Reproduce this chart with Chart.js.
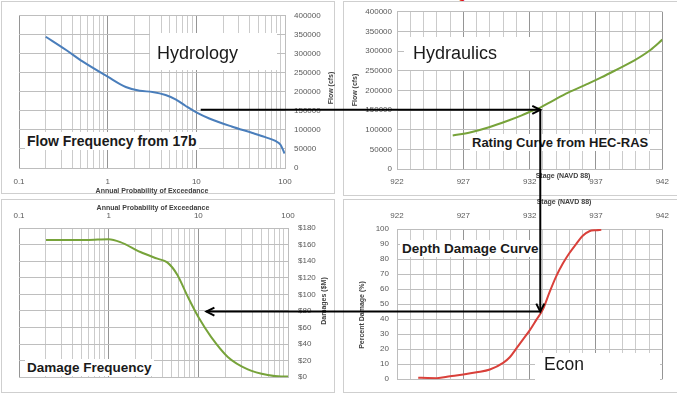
<!DOCTYPE html>
<html>
<head>
<meta charset="utf-8">
<script src="https://cdn.jsdelivr.net/npm/chart.js@4.4.1/dist/chart.umd.min.js"></script>
<style>
  body { margin: 0; width: 677px; height: 398px; background: #fff; position: relative; overflow: hidden;
         font-family: "Liberation Sans", Arial, sans-serif; }
  .panel { position: absolute; border: 1px solid #cfcfcf; box-sizing: border-box; }
  canvas.c { position: absolute; }
  .t { position: absolute; white-space: nowrap; color: #1a1a1a; }
  .box { position: absolute; background: #fff; }
  .ax { position: absolute; white-space: nowrap; font-size: 7px; font-weight: bold; color: #404040;
        transform: translate(-50%, -50%); }
  .rot { transform: translate(-50%, -50%) rotate(-90deg); }
  #arrows { position: absolute; left: 0; top: 0; z-index: 5; }
</style>
</head>
<body>
<div class="t" style="left:459px;top:-16px;color:#e01010;font-weight:bold;font-size:17px;">y</div>

<div class="panel" style="left:1px;top:1px;width:334px;height:193px;"></div>
<div class="panel" style="left:343px;top:1px;width:340px;height:195px;"></div>
<div class="panel" style="left:1px;top:199px;width:334px;height:194px;"></div>
<div class="panel" style="left:343px;top:199px;width:340px;height:194px;"></div>

<canvas class="c" id="flowChart" width="332" height="191" style="left:2px;top:2px;"></canvas>
<canvas class="c" id="ratingChart" width="333" height="193" style="left:344px;top:2px;"></canvas>
<canvas class="c" id="damageFreqChart" width="332" height="192" style="left:2px;top:200px;"></canvas>
<canvas class="c" id="depthDamageChart" width="333" height="192" style="left:344px;top:200px;"></canvas>

<!-- axis titles -->
<div class="ax" style="left:152px;top:190px;">Annual Probability of Exceedance</div>
<div class="ax rot" style="left:330px;top:88px;">Flow (cfs)</div>
<div class="ax rot" style="left:354px;top:90px;">Flow (cfs)</div>
<div class="ax" style="left:563px;top:175px;">Stage (NAVD 88)</div>
<div class="ax" style="left:153px;top:207px;">Annual Probability of Exceedance</div>
<div class="ax rot" style="left:323px;top:301px;">Damages ($M)</div>
<div class="ax" style="left:564px;top:201px;">Stage (NAVD 88)</div>
<div class="ax rot" style="left:361px;top:315px;">Percent Damage (%)</div>

<!-- annotation labels -->
<div class="box" style="left:150px;top:33px;width:127px;height:37px;"></div>
<div class="t" style="left:157px;top:43px;font-size:18px;">Hydrology</div>
<div class="box" style="left:404px;top:37px;width:126px;height:33px;"></div>
<div class="t" style="left:413px;top:43px;font-size:18px;">Hydraulics</div>
<div class="t" style="left:25px;top:132px;font-size:14px;font-weight:bold;background:#fff;padding:1px 2px;">Flow Frequency from 17b</div>
<div class="t" style="left:470px;top:134px;font-size:13px;font-weight:bold;background:#fff;padding:1px 2px;">Rating Curve from HEC-RAS</div>
<div class="t" style="left:25px;top:359px;font-size:13.5px;font-weight:bold;background:#fff;padding:1px 2px;">Damage Frequency</div>
<div class="t" style="left:400px;top:240px;font-size:13.5px;font-weight:bold;background:#fff;padding:1px 2px;">Depth Damage Curve</div>
<div class="box" style="left:535px;top:353px;width:125px;height:28px;"></div>
<div class="t" style="left:544px;top:354px;font-size:17.5px;">Econ</div>

<canvas id="arrows" width="677" height="398"></canvas>

<script>
// flow frequency (17b)
const flowProb = [0.2, 0.34, 0.52, 1, 1.6, 2.3, 3.2, 4.5, 5.9, 7.6, 10, 14, 25, 43, 60, 78, 89, 99];
const flowCfs = [345000, 310000, 280000, 240000, 213000, 203000, 200000, 192000, 180000, 163000, 146000, 130000, 109000, 92000, 81000, 71000, 61000, 38000];

// rating curve (HEC-RAS)
const ratingStage = [926.2, 927.5, 929.0, 930.4, 931.4, 932.2, 932.8, 933.7, 934.9, 936.2, 937.4, 938.6, 939.9, 941.1, 942];
const ratingFlow = [85000, 93000, 107000, 123500, 136600, 148100, 156400, 172800, 194200, 214000, 232900, 253500, 276500, 302900, 329200];

// damage frequency
const damageProb = [0.2, 0.34, 0.57, 1, 1.35, 2.26, 3.5, 4.5, 5.8, 7.6, 10.2, 13.8, 21.3, 35.6, 59.5, 84, 100];
const damageMil = [165.5, 165.5, 165.5, 166.5, 163, 151, 143, 138.5, 124, 97.5, 71, 49, 24.5, 9.5, 2.6, 0.8, 0.8];

// depth damage curve
const ddStage = [923.6, 924.3, 925, 926, 927, 928, 929, 930, 930.5, 931, 931.5, 932, 932.5, 933, 933.5, 934, 934.5, 935, 935.5, 936, 936.5, 937, 937.4];
const ddPercent = [1.0, 0.8, 0.7, 1.9, 3.1, 4.6, 6.5, 10.9, 14.6, 20.5, 26.5, 32.5, 39.5, 46.5, 58, 68.5, 77, 84, 90, 95.5, 98.5, 99.2, 99.5];

// arrow path readings
const arrowFlow = 153000;
const arrowProbStart = 11.2;
const arrowStage = 932.8;
const arrowPercent = 45;
const arrowProbEnd = 12.3;

Chart.defaults.font.family = '"Liberation Sans", Arial, sans-serif';
Chart.defaults.font.size = 8;
Chart.defaults.color = '#595959';

const minorGrid = '#cbcbcb';
const majorGrid = '#959595';
const hGrid = '#bebebe';

// log ticks 0.1 .. 100 (1-9 per decade)
function setLogTicks(scale) {
    const t = [];
    [0.1, 1, 10].forEach(d => { for (let k = 1; k <= 9; k++) t.push({ value: +(d * k).toPrecision(3) }); });
    t.push({ value: 100 });
    scale.ticks = t;
}
function isPow10(v) { const l = Math.log10(v); return Math.abs(l - Math.round(l)) < 1e-9; }

function logX(position, height, pad) {
    return {
        type: 'logarithmic', position: position, min: 0.1, max: 100,
        afterBuildTicks: setLogTicks,
        afterFit: s => { s.height = height; },
        grid: { drawTicks: false, color: c => isPow10(c.tick.value) ? majorGrid : minorGrid },
        border: { color: '#bdbdbd' },
        ticks: { autoSkip: false, maxRotation: 0, padding: pad, callback: v => isPow10(v) ? String(v) : '' }
    };
}
function stageX(position, height, pad) {
    return {
        type: 'linear', position: position, min: 922, max: 942,
        afterFit: s => { s.height = height; },
        grid: { drawTicks: false, color: c => (c.tick.value - 922) % 5 === 0 ? majorGrid : minorGrid },
        border: { color: '#bdbdbd' },
        ticks: { stepSize: 1, autoSkip: false, maxRotation: 0, padding: pad, callback: v => (v - 922) % 5 === 0 ? String(v) : '' }
    };
}
function valueY(position, width, max, step, pad, fmt) {
    return {
        position: position, min: 0, max: max,
        afterFit: s => { s.width = width; },
        grid: { drawTicks: false, color: hGrid },
        border: { color: '#bdbdbd' },
        ticks: { stepSize: step, padding: pad, callback: fmt || (v => String(v)) }
    };
}
function series(xs, ys, color) {
    return [{
        data: xs.map((x, i) => ({ x: x, y: ys[i] })),
        borderColor: color, borderWidth: 2, pointRadius: 0,
        tension: 0.4, cubicInterpolationMode: 'monotone', fill: false
    }];
}
function baseOptions(padding, x, y) {
    return {
        responsive: false, animation: false, layout: { padding: padding },
        plugins: { legend: { display: false }, tooltip: { enabled: false } },
        scales: { x: x, y: y }
    };
}

var flowChart = new Chart(document.getElementById('flowChart'), {
    type: 'line',
    data: { datasets: series(flowProb, flowCfs, '#4a7ebb') },
    options: baseOptions({ left: 17, top: 7, right: 0, bottom: 0 },
        logX('bottom', 25, 9), valueY('right', 49, 400000, 50000, 9))
});

var ratingChart = new Chart(document.getElementById('ratingChart'), {
    type: 'line',
    data: { datasets: series(ratingStage, ratingFlow, '#77a33a') },
    options: baseOptions({ left: 0, top: 5, right: 12, bottom: 0 },
        stageX('bottom', 26, 8), valueY('left', 53, 400000, 50000, 5))
});

var damageFreqChart = new Chart(document.getElementById('damageFreqChart'), {
    type: 'line',
    data: { datasets: series(damageProb, damageMil, '#77a33a') },
    options: baseOptions({ left: 17, top: 0, right: 0, bottom: 4 },
        logX('top', 28, 7), valueY('right', 46, 180, 20, 10, v => '$' + v))
});

var depthDamageChart = new Chart(document.getElementById('depthDamageChart'), {
    type: 'line',
    data: { datasets: series(ddStage, ddPercent, '#d9403a') },
    options: baseOptions({ left: 0, top: 0, right: 13, bottom: 4 },
        stageX('top', 29, 8), valueY('left', 53, 100, 10, 8))
});

// arrows tying the four curves together
function px(chart, axis, v) {
    const cv = chart.canvas;
    const off = axis === 'x' ? cv.offsetLeft : cv.offsetTop;
    return off + chart.scales[axis].getPixelForValue(v);
}
function head(ctx, x, y, dx, dy) {
    const len = 8, half = 4;
    ctx.beginPath();
    ctx.moveTo(x - dx * len - dy * half, y - dy * len - dx * half);
    ctx.lineTo(x, y);
    ctx.lineTo(x - dx * len + dy * half, y - dy * len + dx * half);
    ctx.stroke();
}
const actx = document.getElementById('arrows').getContext('2d');
actx.strokeStyle = '#000';
actx.lineWidth = 2;
const x0 = px(flowChart, 'x', arrowProbStart);
const y0 = px(flowChart, 'y', arrowFlow);
const x1 = px(ratingChart, 'x', arrowStage);
const y2 = px(depthDamageChart, 'y', arrowPercent);
const x3 = px(damageFreqChart, 'x', arrowProbEnd);
actx.beginPath();
actx.moveTo(x0, y0); actx.lineTo(x1, y0);
actx.moveTo(x1, y0); actx.lineTo(x1, y2);
actx.moveTo(x1, y2); actx.lineTo(x3, y2);
actx.stroke();
head(actx, x1, y0, 1, 0);
head(actx, x1, y2, 0, 1);
head(actx, x3, y2, -1, 0);
</script>
</body>
</html>
